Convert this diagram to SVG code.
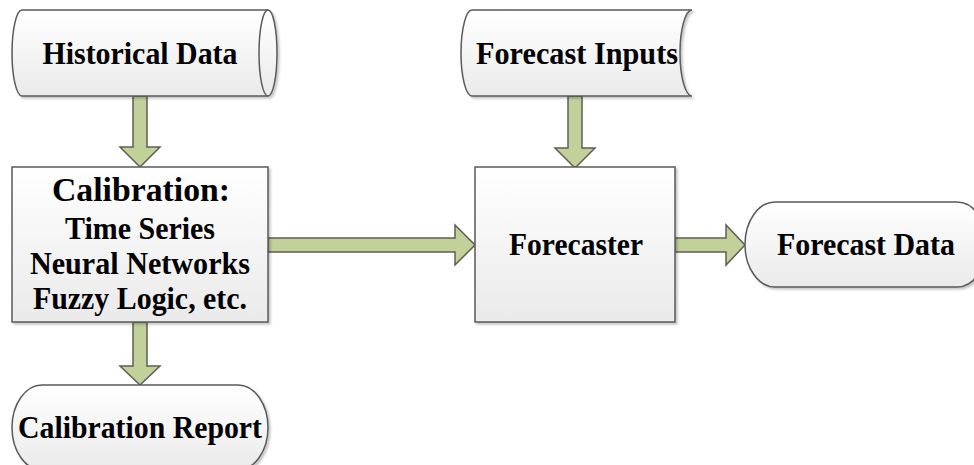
<svg xmlns="http://www.w3.org/2000/svg" width="974" height="465" viewBox="0 0 974 465">
<defs>
<linearGradient id="g" x1="0" y1="0" x2="0" y2="1">
<stop offset="0" stop-color="#ffffff"/>
<stop offset="1" stop-color="#eaeaea"/>
</linearGradient>
<filter id="sh" x="-10%" y="-10%" width="130%" height="130%">
<feDropShadow dx="2" dy="2" stdDeviation="1.2" flood-color="#000" flood-opacity="0.22"/>
</filter>
</defs>
<style>
.shape{fill:url(#g);stroke:#5a5a5a;stroke-width:1.5;filter:url(#sh)}
.line{fill:none;stroke:#5a5a5a;stroke-width:1.5}
.arrow{fill:#c2d09a;stroke:#5c5f55;stroke-width:1.5;stroke-linejoin:miter}
.t{font-family:"Liberation Serif","Times New Roman",serif;font-weight:bold;font-size:31px;fill:#000;text-anchor:middle}
.big{font-size:34px}
</style>
<rect width="974" height="465" fill="#fff"/>
<g id="connectors">
<polygon class="arrow" points="133,96 147,96 147,147 160,147 140,167 120,147 133,147"/>
<polygon class="arrow" points="568,96 582,96 582,148 595,148 575,168 555,148 568,148"/>
<polygon class="arrow" points="133,322 147,322 147,366 160,366 140,385 120,366 133,366"/>
<polygon class="arrow" points="268,238 455,238 455,225 475,245 455,265 455,252 268,252"/>
<polygon class="arrow" points="675,238 726,238 726,225 745,245 726,265 726,252 675,252"/>
</g>
<g id="historical-data">
<path class="shape" d="M22,10 L268,10 A9,43 0 0 1 268,96 L22,96 A10,43 0 0 1 22,10 Z"/>
<path class="line" d="M268,10 A9,43 0 0 0 268,96"/>
<text class="t" x="140" y="64" textLength="195" lengthAdjust="spacingAndGlyphs">Historical Data</text>
</g>
<g id="forecast-inputs">
<path class="shape" d="M472,10 L692,10 A12,43 0 0 0 692,96 L472,96 A11,43 0 0 1 472,10 Z"/>
<text class="t" x="577" y="64" textLength="202" lengthAdjust="spacingAndGlyphs">Forecast Inputs</text>
</g>
<g id="calibration">
<rect class="shape" x="12" y="167" width="256" height="155"/>
<text class="t big" x="141" y="201" textLength="178" lengthAdjust="spacingAndGlyphs">Calibration:</text>
<text class="t" x="140" y="239" textLength="150" lengthAdjust="spacingAndGlyphs">Time Series</text>
<text class="t" x="140" y="274" textLength="220" lengthAdjust="spacingAndGlyphs">Neural Networks</text>
<text class="t" x="140" y="309" textLength="214" lengthAdjust="spacingAndGlyphs">Fuzzy Logic, etc.</text>
</g>
<g id="forecaster">
<rect class="shape" x="475" y="167" width="200" height="155"/>
<text class="t" x="576" y="255" textLength="134" lengthAdjust="spacingAndGlyphs">Forecaster</text>
</g>
<g id="forecast-data">
<rect class="shape" x="745" y="202" width="242" height="85" rx="30" ry="42.5"/>
<text class="t" x="866" y="255" textLength="178" lengthAdjust="spacingAndGlyphs">Forecast Data</text>
</g>
<g id="calibration-report">
<rect class="shape" x="12" y="385" width="256" height="85" rx="30" ry="42.5"/>
<text class="t" x="140" y="438" textLength="244" lengthAdjust="spacingAndGlyphs">Calibration Report</text>
</g>
</svg>
